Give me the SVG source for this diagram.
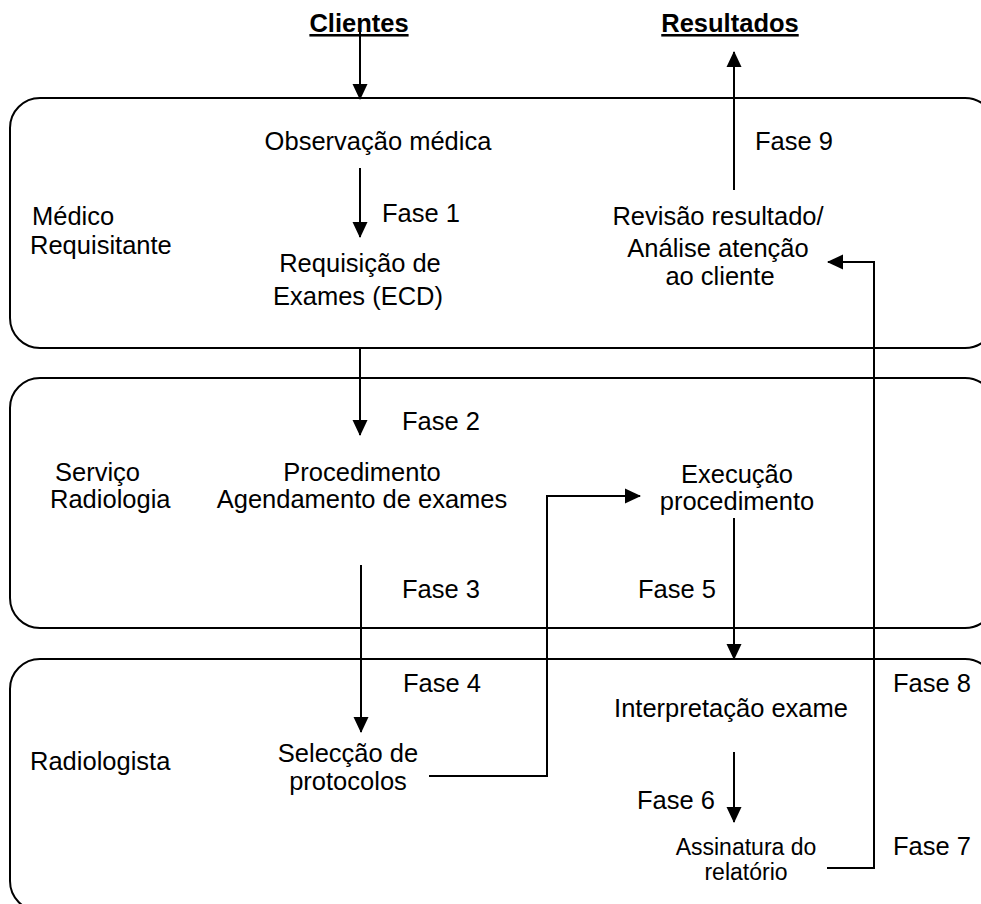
<svg xmlns="http://www.w3.org/2000/svg" width="981" height="904" viewBox="0 0 981 904">
<style>
text{font-family:"Liberation Sans",Arial,sans-serif;font-size:25.5px;fill:#000}
.c{text-anchor:middle}
.h{font-weight:bold;text-decoration:underline}
.s{font-size:23px}
.lane{fill:none;stroke:#000;stroke-width:2}
.con{fill:none;stroke:#000;stroke-width:2}
</style>
<defs>
<marker id="ah" markerUnits="userSpaceOnUse" markerWidth="16" markerHeight="16" viewBox="0 0 16 16" refX="15" refY="8" orient="auto">
<path d="M0,0.5 L16,8 L0,15.5 Z" fill="#000"/>
</marker>
</defs>
<rect width="981" height="904" fill="#fff"/>
<g id="lane-medico">
<rect class="lane" x="10" y="98" width="985" height="250" rx="30" ry="30"/>
<text x="32" y="225">Médico</text>
<text x="30" y="254">Requisitante</text>
</g>
<g id="lane-servico">
<rect class="lane" x="10" y="378" width="985" height="250" rx="30" ry="30"/>
<text x="55" y="481">Serviço</text>
<text x="50" y="508">Radiologia</text>
</g>
<g id="lane-radiologista">
<rect class="lane" x="10" y="659" width="985" height="252" rx="30" ry="30"/>
<text x="30" y="770">Radiologista</text>
</g>
<g id="clientes"><text class="c h" x="359" y="32">Clientes</text></g>
<g id="resultados"><text class="c h" x="730" y="32">Resultados</text></g>
<g id="observacao"><text class="c" x="378" y="150">Observação médica</text></g>
<g id="requisicao"><text class="c" x="360" y="272">Requisição de</text><text class="c" x="358" y="305">Exames (ECD)</text></g>
<g id="revisao"><text class="c" x="718" y="225">Revisão resultado/</text><text class="c" x="718" y="257">Análise atenção</text><text class="c" x="720" y="285">ao cliente</text></g>
<g id="procedimento"><text class="c" x="362" y="481">Procedimento</text><text class="c" x="362" y="508">Agendamento de exames</text></g>
<g id="execucao"><text class="c" x="737" y="483">Execução</text><text class="c" x="737" y="510">procedimento</text></g>
<g id="interpretacao"><text class="c" x="731" y="717">Interpretação exame</text></g>
<g id="seleccao"><text class="c" x="348" y="762">Selecção de</text><text class="c" x="348" y="790">protocolos</text></g>
<g id="assinatura"><text class="c s" x="746" y="855">Assinatura do</text><text class="c s" x="746" y="880">relatório</text></g>
<g id="connectors">
<line class="con" x1="360" y1="28" x2="360" y2="99" marker-end="url(#ah)"/>
<line class="con" x1="734" y1="190" x2="734" y2="52" marker-end="url(#ah)"/>
<line class="con" x1="360" y1="168" x2="360" y2="237" marker-end="url(#ah)"/>
<polyline class="con" points="827,868 874,868 874,262 828,262" marker-end="url(#ah)"/>
<line class="con" x1="360" y1="348" x2="360" y2="435" marker-end="url(#ah)"/>
<line class="con" x1="361" y1="565" x2="361" y2="732" marker-end="url(#ah)"/>
<polyline class="con" points="429,776 547,776 547,496 640,496" marker-end="url(#ah)"/>
<line class="con" x1="734" y1="518" x2="734" y2="659" marker-end="url(#ah)"/>
<line class="con" x1="734" y1="752" x2="734" y2="822" marker-end="url(#ah)"/>
<text x="382" y="222">Fase 1</text>
<text x="402" y="430">Fase 2</text>
<text x="402" y="598">Fase 3</text>
<text x="403" y="692">Fase 4</text>
<text x="638" y="598">Fase 5</text>
<text x="637" y="809">Fase 6</text>
<text x="893" y="855">Fase 7</text>
<text x="893" y="692">Fase 8</text>
<text x="755" y="150">Fase 9</text>
</g>
</svg>
